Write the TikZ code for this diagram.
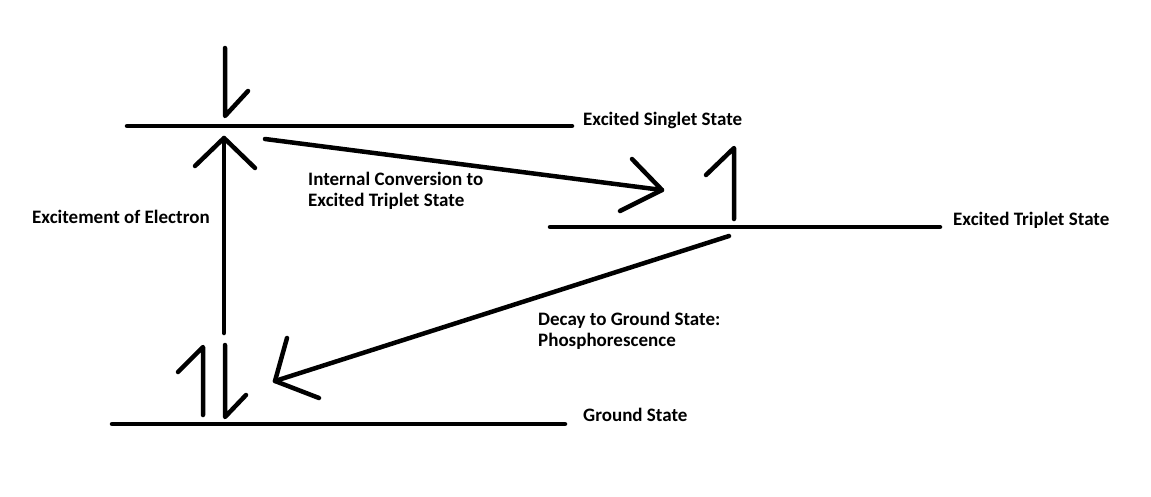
\documentclass[tikz,border=0pt]{standalone}
\usepackage{fontspec}
\setmainfont{Carlito}
\begin{document}
\begin{tikzpicture}[x=1pt,y=-1pt,
  stroke/.style={line width=4.5pt,line cap=round,line join=round},
  lbl/.style={anchor=base west,inner sep=0pt,font=\fontsize{19}{21.5}\selectfont\bfseries,align=left}]
\useasboundingbox (0,0) rectangle (1151,496);
% energy levels
\coordinate (s1) at (127,126); \coordinate (s2) at (572,126);
\coordinate (t1) at (550,227); \coordinate (t2) at (940,227);
\coordinate (g1) at (112,424); \coordinate (g2) at (565,424);
\draw[stroke] (s1) -- (s2);
\draw[stroke] (t1) -- (t2);
\draw[stroke] (g1) -- (g2);
% spin in singlet (down)
\coordinate (sa) at (225,48); \coordinate (sb) at (225,116); \coordinate (sc) at (248,91);
\draw[stroke] (sa) -- (sb) -- (sc);
% excitement arrow
\coordinate (ea) at (224,333); \coordinate (eb) at (224,138);
\coordinate (el) at (195,166); \coordinate (er) at (255,168);
\draw[stroke] (ea) -- (eb);
\draw[stroke] (el) -- (eb) -- (er);
% internal conversion arrow
\coordinate (ia) at (265,139); \coordinate (ib) at (662,190);
\coordinate (iu) at (632,159); \coordinate (il) at (620,211);
\draw[stroke] (ia) -- (ib);
\draw[stroke] (iu) -- (ib) -- (il);
% triplet spin (up)
\coordinate (ta) at (734,219); \coordinate (tb) at (734,148); \coordinate (tc) at (706,175);
\draw[stroke] (ta) -- (tb) -- (tc);
% decay arrow
\coordinate (da) at (729,236); \coordinate (db) at (275,381);
\coordinate (du) at (287,338); \coordinate (dl) at (319,398);
\draw[stroke] (da) -- (db);
\draw[stroke] (du) -- (db) -- (dl);
% ground spins
\coordinate (gua) at (203,415); \coordinate (gub) at (203,347); \coordinate (guc) at (178,372);
\draw[stroke] (gua) -- (gub) -- (guc);
\coordinate (gda) at (225,345); \coordinate (gdb) at (225,417); \coordinate (gdc) at (246,395);
\draw[stroke] (gda) -- (gdb) -- (gdc);
% labels
\node[lbl] (ls) at (583,125) {Excited Singlet State};
\node[lbl] (lt) at (953,225) {Excited Triplet State};
\node[lbl] (lg) at (583,421) {Ground State};
\node[lbl] (le) at (32,223) {Excitement of Electron};
\node[lbl] (li) at (308,206.5) {Internal Conversion to\\Excited Triplet State};
\node[lbl] (ld) at (538,346.5) {Decay to Ground State:\\Phosphorescence};
\end{tikzpicture}
\end{document}
